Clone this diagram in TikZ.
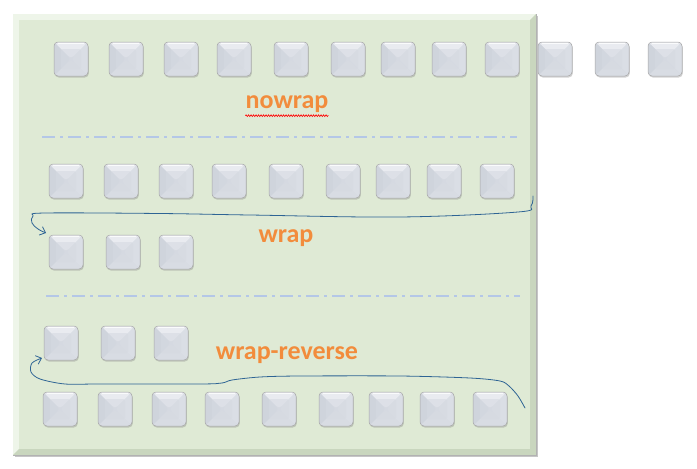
\documentclass[tikz,border=0pt]{standalone}
\usepackage{fontspec}
\setmainfont{Carlito}
\usetikzlibrary{shadows,decorations.pathmorphing,arrows.meta}
\definecolor{panel}{HTML}{DFEAD5}
\definecolor{panelhi}{HTML}{EEF5E9}
\definecolor{panello}{HTML}{C9D6BE}
\definecolor{boxmid}{HTML}{D5D9E1}
\definecolor{boxtop}{HTML}{E9EBF0}
\definecolor{boxleft}{HTML}{CFD4DC}
\definecolor{boxright}{HTML}{DADEE5}
\definecolor{boxbot}{HTML}{D8DCE3}
\definecolor{dashc}{HTML}{B4C7E7}
\definecolor{lbl}{HTML}{F28C3C}
\definecolor{penc}{HTML}{2E6494}
\tikzset{
  flexbox/.style={rectangle, minimum width=34pt, minimum height=34pt, inner sep=0pt,
    rounded corners=4pt, draw=gray!70, line width=0.5pt, fill=boxmid,
    drop shadow={shadow xshift=0.8pt, shadow yshift=-1.5pt, opacity=0.35},
    path picture={
      \fill[boxtop] (path picture bounding box.north west) -- (path picture bounding box.north east) -- (path picture bounding box.center) -- cycle;
      \fill[boxleft] (path picture bounding box.north west) -- (path picture bounding box.south west) -- (path picture bounding box.center) -- cycle;
      \fill[boxright] (path picture bounding box.north east) -- (path picture bounding box.south east) -- (path picture bounding box.center) -- cycle;
      \fill[boxbot] (path picture bounding box.south west) -- (path picture bounding box.south east) -- (path picture bounding box.center) -- cycle;
      \fill[boxmid, opacity=0.6, rounded corners=2pt] ([shift={(7pt,-7pt)}]path picture bounding box.north west) rectangle ([shift={(-7pt,7pt)}]path picture bounding box.south east);
      \draw[white, opacity=0.8, line width=0.8pt] ([shift={(4pt,-1pt)}]path picture bounding box.north west) -- ([shift={(-4pt,-1pt)}]path picture bounding box.north east);
    }},
  lbltext/.style={text=lbl, font=\bfseries\fontsize{26}{28}\selectfont, inner sep=0pt},
  dashline/.style={dashc, line width=1.4pt, dash pattern=on 13pt off 5pt on 3pt off 5pt},
  penline/.style={penc, line width=0.8pt, line cap=round, line join=round},
  pentip/.style={-{Straight Barb[length=5pt,width=9pt]}}
}
\begin{document}
\begin{tikzpicture}[x=1pt,y=-1pt]
\useasboundingbox (0,0) rectangle (697,469);
% panel
\fill[gray!45] (15,16) rectangle (538,457);
\fill[panel] (13,14) rectangle (536,455);
\fill[panelhi] (13,14) -- (536,14) -- (530,20) -- (19,20) -- (19,449) -- (13,455) -- cycle;
\fill[panello] (536,14) -- (536,455) -- (13,455) -- (19,449) -- (530,449) -- (530,20) -- cycle;
\fill[panel] (19,20) rectangle (530,449);
\draw[gray!60, line width=0.5pt] (536,14) -- (536,455) -- (13,455);

% row 1 (nowrap)
\foreach \x [count=\i] in {71,126,181,234,291,348,398,449,502,555,612,665}
  \node[flexbox] (a\i) at (\x,59) {};
% row 2 (wrap)
\foreach \x [count=\i] in {66,121,176,229,286,343,393,444,497}
  \node[flexbox] (b\i) at (\x,181) {};
\foreach \x [count=\i] in {66,123,176}
  \node[flexbox] (c\i) at (\x,252) {};
% wrap-reverse
\foreach \x [count=\i] in {61,118,171}
  \node[flexbox] (d\i) at (\x,343) {};
\foreach \x [count=\i] in {60,115,169,222,279,336,386,437,490}
  \node[flexbox] (e\i) at (\x,409) {};

% labels
\node[lbltext] (nowrap) at (287,104) {nowrap};
\node[lbltext] (wrap) at (286,238) {wrap};
\node[lbltext] (wraprev) at (287,355) {wrap-reverse};
\draw[red, line width=0.6pt, decorate, decoration={zigzag, segment length=2.5pt, amplitude=0.9pt}]
  ([yshift=-3pt]nowrap.south west) -- ([yshift=-3pt]nowrap.south east);

% separators
\draw[dashline] (42,137) -- (517,137);
\draw[dashline] (46,296) -- (520,296);

% pen arrows
\coordinate (w0) at (533,196);
\coordinate (w1) at (46,233);
\draw[penline, pentip] plot[smooth, tension=0.6] coordinates {(w0) (531,206) (518,212) (400,217) (250,215) (160,213.5) (45,213) (33,216) (32,223) (38,229) (w1)};
\coordinate (r0) at (525,408);
\coordinate (r1) at (42,358);
\draw[penline, pentip] plot[smooth, tension=0.5] coordinates {(r0) (518,396) (509,386) (500,381) (470,378) (400,376) (300,376) (260,377) (232,380) (222,383) (200,384) (100,384) (65,384) (40,379) (31,372) (32,363) (r1)};
\end{tikzpicture}
\end{document}
